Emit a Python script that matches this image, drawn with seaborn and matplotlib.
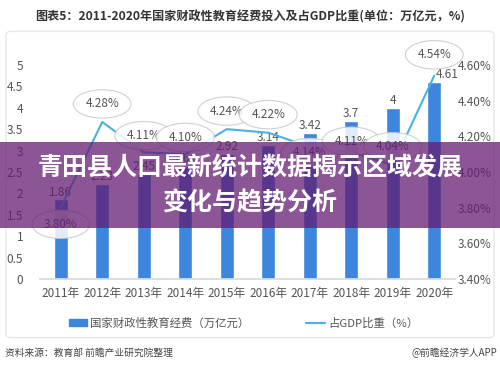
import numpy as np
import pandas as pd
import matplotlib
matplotlib.use("Agg")
import matplotlib.pyplot as plt
from matplotlib.patches import Rectangle, FancyBboxPatch
from matplotlib.lines import Line2D
import seaborn as sns

years = ["2011年", "2012年", "2013年", "2014年", "2015年", "2016年", "2017年", "2018年", "2019年", "2020年"]
spend = [1.86, 2.23, 2.45, 2.64, 2.92, 3.14, 3.42, 3.7, 4.0, 4.61]
spend_labels = ["1.86", "2.23", "2.45", "2.64", "2.92", "3.14", "3.42", "3.7", "4", "4.61"]
gdp_share = [3.80, 4.28, 4.11, 4.10, 4.24, 4.22, 4.14, 4.11, 4.04, 4.54]
left_ticks = [0, 0.5, 1, 1.5, 2, 2.5, 3, 3.5, 4, 4.5, 5]
right_ticks = [3.4, 3.6, 3.8, 4.0, 4.2, 4.4, 4.6]

sns.set_theme(style="white")
plt.rcParams["font.family"] = ["Noto Sans CJK SC", "DejaVu Sans"]

BAR = "#3c86de"
LINE = "#48b2e2"
TXT = "#555555"

fig = plt.figure(figsize=(5.0, 3.69), dpi=100)
fig.patch.set_facecolor("white")

# faint frame around chart area
frame = FancyBboxPatch((0.012, 0.085), 0.976, 0.83, boxstyle="round,pad=0,rounding_size=0.01",
                       transform=fig.transFigure, fc="none", ec="#e8e8e8", lw=1.0, zorder=-5)
fig.patches.append(frame)

ax = fig.add_axes([0.08, 0.244, 0.83, 0.58])
ax.patch.set_alpha(0)
df = pd.DataFrame({"year": years, "spend": spend, "gdp": gdp_share, "pos": np.arange(len(years))})

sns.barplot(data=df, x="year", y="spend", color=BAR, width=0.33, ax=ax, saturation=1, zorder=2)
ax.set_xlim(-0.5, len(years) - 0.5)
ax.set_ylim(0, 5)
ax.set_yticks(left_ticks)
ax.set_yticklabels([f"{t:g}" for t in left_ticks])
ax.set_xlabel("")
ax.set_ylabel("")
for s in ["top", "right", "left"]:
    ax.spines[s].set_visible(False)
ax.spines["bottom"].set_color("#d9d9d9")
ax.tick_params(axis="both", length=0, labelsize=8.5, colors=TXT, pad=6)
ax.tick_params(axis="y", pad=12)

bar_label_dx = [0, 0, 0, 0, 0, 0, 0, 0, 0, 9]
for i, (v, lab, dx) in enumerate(zip(spend, spend_labels, bar_label_dx)):
    ax.annotate(lab, (i, v), xytext=(dx, 0.5), textcoords="offset points",
                ha="center", va="bottom", fontsize=8.5, color=TXT, zorder=5)

ax2 = ax.twinx()
sns.lineplot(data=df, x="pos", y="gdp", color=LINE, lw=1.5, ax=ax2, zorder=3)
ax2.set_ylim(3.4, 4.6)
ax2.set_yticks(right_ticks)
ax2.set_yticklabels([f"{t:.2f}%" for t in right_ticks])
ax2.set_xlabel("")
ax2.set_ylabel("")
for s in ["top", "right", "left", "bottom"]:
    ax2.spines[s].set_visible(False)
ax2.tick_params(axis="y", length=0, labelsize=8.5, colors=TXT, pad=2)
ax2.set_xlim(-0.5, len(years) - 0.5)

offsets = [-12, 13, 12, 12, 13, 13, -4, 8, 13, 15]
for i, (v, dy) in enumerate(zip(gdp_share, offsets)):
    ax2.annotate(f"{v:.2f}%", (i, v), xytext=(0, dy), textcoords="offset points",
                 ha="center", va="center", fontsize=8.5, color=TXT, zorder=6,
                 bbox=dict(boxstyle="ellipse,pad=0.3", fc="white", ec="#c8c8c8", lw=0.8, alpha=0.85))

# title
fig.text(0.5, 0.955, "图表5：2011-2020年国家财政性教育经费投入及占GDP比重(单位：万亿元，%)",
         ha="center", va="center", fontsize=8.7, fontweight="bold", color="#333333")

# legend
handles = [Rectangle((0, 0), 1, 1, color=BAR), Line2D([0], [0], color=LINE, lw=1.6)]
fig.legend(handles, ["国家财政性教育经费（万亿元）", "占GDP比重（%）"], loc="center",
           bbox_to_anchor=(0.487, 0.125), ncol=2, frameon=False, fontsize=8.2,
           handlelength=1.6, handleheight=0.5, handletextpad=0.3, columnspacing=5.0, labelcolor=TXT)

# footer
fig.text(0.01, 0.043, "资料来源：教育部 前瞻产业研究院整理", ha="left", va="center", fontsize=7, color="#444444")
fig.text(0.995, 0.043, "@前瞻经济学人APP", ha="right", va="center", fontsize=7, color="#444444")

# banner overlay
banner = Rectangle((0, 1 - 228 / 369), 1, 86 / 369, transform=fig.transFigure,
                   fc="#641a71", alpha=0.74, ec="none", zorder=20)
fig.patches.append(banner)
fig.text(0.5, 1 - 168 / 369, "青田县人口最新统计数据揭示区域发展", ha="center", va="center",
         fontsize=18, fontweight="bold", color="white", zorder=21)
fig.text(0.5, 1 - 203 / 369, "变化与趋势分析", ha="center", va="center",
         fontsize=18, fontweight="bold", color="white", zorder=21)

fig.savefig("out.png", dpi=100)
